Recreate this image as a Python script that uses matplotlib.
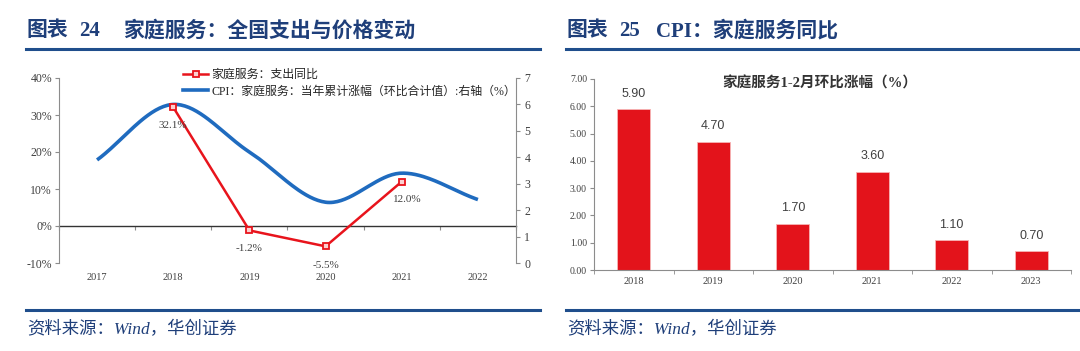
import numpy as np
import matplotlib
matplotlib.use("Agg")
import matplotlib.pyplot as plt
from matplotlib.lines import Line2D
from matplotlib.ticker import FuncFormatter, FixedLocator

# ---------------- data ----------------
years_left = ["2017", "2018", "2019", "2020", "2021", "2022"]
spend_yoy = [np.nan, 0.321, -0.012, -0.055, 0.120, np.nan]        # 家庭服务：支出同比
spend_labels = ["", "32.1%", "-1.2%", "-5.5%", "12.0%", ""]
cpi_cum = [3.9, 6.0, 4.2, 2.3, 3.4, 2.4]                             # CPI 当年累计涨幅 (右轴)

years_right = ["2018", "2019", "2020", "2021", "2022", "2023"]
mom_12 = [5.90, 4.70, 1.70, 3.60, 1.10, 0.70]                        # 家庭服务1-2月环比涨幅

title_left_lbl, title_left_num = "图表", "24"
title_left = "家庭服务：全国支出与价格变动"
title_right_lbl, title_right_num = "图表", "25"
title_right = "CPI：家庭服务同比"
legend_red = "家庭服务：支出同比"
legend_blue = "CPI：家庭服务：当年累计涨幅（环比合计值）:右轴（%）"
bar_title = "家庭服务1-2月环比涨幅（%）"
source = "资料来源：Wind，华创证券"

# ---------------- style ----------------
SERIF = ["Liberation Serif", "Noto Sans CJK SC"]
SANS = ["Liberation Sans", "Noto Sans CJK SC"]
NAVY = "#1F3F7A"
LINE_NAVY = "#1F4E8C"
RED = "#E8141C"
BLUE = "#1F6BBF"
GRAY = "#8C8C8C"
TXT = "#404040"
plt.rcParams["font.family"] = SERIF
plt.rcParams["axes.unicode_minus"] = False

W, H = 1080, 351
fig = plt.figure(figsize=(W / 100, H / 100), dpi=100)


def fx(px):
    return px / W


def fy(py):
    return 1 - py / H


def catmull(xs, ys, n=40):
    xs = np.asarray(xs, float)
    ys = np.asarray(ys, float)
    P = np.column_stack([xs, ys])
    P = np.vstack([P[0] - (P[1] - P[0]), P, P[-1] + (P[-1] - P[-2])])
    out = []
    for i in range(1, len(P) - 2):
        p0, p1, p2, p3 = P[i - 1], P[i], P[i + 1], P[i + 2]
        c1 = p1 + (p2 - p0) / 6
        c2 = p2 - (p3 - p1) / 6
        t = np.linspace(0, 1, n)[:, None]
        seg = ((1 - t) ** 3) * p1 + 3 * ((1 - t) ** 2) * t * c1 + 3 * (1 - t) * t ** 2 * c2 + t ** 3 * p2
        out.append(seg if i == 1 else seg[1:])
    out = np.vstack(out)
    return out[:, 0], out[:, 1]


# ---------------- headers & footers ----------------
for x0, x1, lbl, num, ttl, xt in [(26, 540, title_left_lbl, title_left_num, title_left, 123),
                                  (566, 1078, title_right_lbl, title_right_num, title_right, 656)]:
    fig.add_artist(Line2D([fx(x0), fx(x1)], [fy(49), fy(49)], color=LINE_NAVY, lw=2.2))
    fig.add_artist(Line2D([fx(x0), fx(x1)], [fy(310), fy(310)], color=LINE_NAVY, lw=2.2))
    kw = dict(fontsize=15, fontweight="bold", color=NAVY, family=SERIF, va="center", ha="left")
    fig.text(fx(x0 + 1), fy(31), lbl, **kw)
    fig.text(fx(x0 + 53), fy(31), num, **kw)
    fig.text(fx(xt), fy(31), ttl, **kw)
    fig.text(fx(x0 + 1), fy(329.5), source, fontsize=12.5, color=NAVY, style="italic",
             family=SERIF, va="center", ha="left")

# ---------------- left chart ----------------
ax = fig.add_axes([fx(59), fy(263), fx(516 - 59), (263 - 78) / H])
xl = np.arange(len(years_left))
ax.set_xlim(-0.5, len(years_left) - 0.5)
ax.set_ylim(-0.10, 0.40)
ax.set_yticks([-0.1, 0, 0.1, 0.2, 0.3, 0.4])
ax.yaxis.set_major_formatter(FuncFormatter(lambda v, p: f"{v*100:.0f}%"))
for s in ["top", "right", "bottom"]:
    ax.spines[s].set_visible(False)
ax.spines["left"].set_color(GRAY)
ax.tick_params(axis="y", direction="out", length=3, color=GRAY, labelsize=8.5,
               labelcolor=TXT, pad=2)
ax.set_xticks(xl)
ax.set_xticklabels(years_left)
ax.tick_params(axis="x", length=0, labelsize=7.5, labelcolor=TXT, pad=7)
ax.patch.set_alpha(0)

# category axis along the zero line
sec = ax.secondary_xaxis(0.2)
sec.spines["bottom"].set_color("#333333")
sec.spines["bottom"].set_linewidth(1.0)
sec.set_xticks(np.arange(len(years_left) + 1) - 0.5)
sec.tick_params(axis="x", direction="out", length=3, color=GRAY, labelbottom=False)

ax2 = ax.twinx()
ax2.set_ylim(0, 7)
ax2.set_yticks(range(0, 8))
for s in ["top", "left", "bottom"]:
    ax2.spines[s].set_visible(False)
ax2.spines["right"].set_color(GRAY)
ax2.tick_params(axis="y", direction="out", length=3, color=GRAY, labelsize=8.5,
                labelcolor=TXT, pad=3)
cx, cy = catmull(xl, cpi_cum)
ax2.plot(cx, cy, color=BLUE, lw=2.6, solid_capstyle="butt", zorder=2)

ax3 = ax.twinx()
ax3.set_ylim(-0.10, 0.40)
ax3.axis("off")
ax3.plot(xl, spend_yoy, color=RED, lw=1.8, marker="s", markersize=4.5,
         markerfacecolor="#FBD0D0", markeredgecolor=RED, markeredgewidth=1.3, zorder=3)
offsets = {1: (0, -18), 2: (0, -18), 3: (0, -19), 4: (6, -18)}
for i, (v, lab) in enumerate(zip(spend_yoy, spend_labels)):
    if lab:
        dx, dy = offsets.get(i, (0, -18))
        ax3.annotate(lab, (xl[i], v), xytext=(dx * 0.72, dy * 0.72), textcoords="offset points",
                     ha="center", va="center", fontsize=8, color=TXT)

handles = [Line2D([], [], color=RED, lw=1.8, marker="s", markersize=4.5,
                  markerfacecolor="#FBD0D0", markeredgecolor=RED, markeredgewidth=1.3),
           Line2D([], [], color=BLUE, lw=2.6)]
leg = fig.legend(handles, [legend_red, legend_blue], loc="upper left",
                 bbox_to_anchor=(fx(183), fy(69)), frameon=False, handlelength=2.1,
                 handletextpad=0.25, labelspacing=0.38, borderpad=0, borderaxespad=0,
                 prop={"family": SERIF, "size": 8.6})
for t in leg.get_texts():
    t.set_color("#262626")

# ---------------- right chart ----------------
bx = fig.add_axes([fx(594), fy(270), fx(1071 - 594), (270 - 79) / H])
xr = np.arange(len(years_right))
bars = bx.bar(xr, mom_12, width=0.42, color="#E3131B", edgecolor="#F7B5B5", linewidth=0.6)
bx.set_xlim(-0.5, len(years_right) - 0.5)
bx.set_ylim(0, 7)
bx.set_yticks(np.arange(0, 8))
bx.yaxis.set_major_formatter(FuncFormatter(lambda v, p: f"{v:.2f}"))
for s in ["top", "right"]:
    bx.spines[s].set_visible(False)
bx.spines["left"].set_color(GRAY)
bx.spines["bottom"].set_color(GRAY)
bx.tick_params(axis="y", direction="out", length=3, color=GRAY, labelsize=7,
               labelcolor=TXT, pad=2)
bx.set_xticks(xr)
bx.set_xticklabels(years_right)
bx.xaxis.set_minor_locator(FixedLocator(np.arange(len(years_right) + 1) - 0.5))
bx.tick_params(axis="x", which="major", length=0, labelsize=7.5, labelcolor=TXT, pad=5)
bx.tick_params(axis="x", which="minor", direction="out", length=3, color=GRAY)
for b, v in zip(bars, mom_12):
    bx.annotate(f"{v:.2f}", (b.get_x() + b.get_width() / 2, v), xytext=(0, 11),
                textcoords="offset points", ha="center", va="center", fontsize=9,
                color=TXT, family=SANS)
fig.text(fx(820), fy(83), bar_title, ha="center", va="center", fontsize=10.5,
         fontweight="bold", color="#333333", family=SERIF)

fig.savefig("out.png", dpi=100)
